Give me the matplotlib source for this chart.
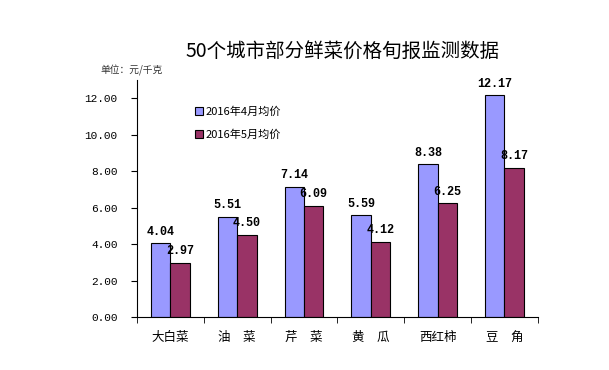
import matplotlib
matplotlib.use('Agg')
import numpy as np
import matplotlib.pyplot as plt
from matplotlib.ticker import FixedLocator, NullFormatter

plt.rcParams['font.family'] = ['Noto Sans CJK SC', 'DejaVu Sans']

categories = ['大白菜', '油　菜', '芹　菜', '黄　瓜', '西红柿', '豆　角']
april = [4.04, 5.51, 7.14, 5.59, 8.38, 12.17]
may = [2.97, 4.50, 6.09, 4.12, 6.25, 8.17]
series_names = ['2016年4月均价', '2016年5月均价']
yticks = [0, 2, 4, 6, 8, 10, 12]

fig = plt.figure(figsize=(6.09, 3.70), dpi=100)
ax = fig.add_axes([0.225, 0.143, 0.658, 0.641])

x = np.arange(len(categories))
w = 0.29
b1 = ax.bar(x - w / 2, april, w, color='#9999FF', edgecolor='black', lw=0.8, label=series_names[0])
b2 = ax.bar(x + w / 2, may, w, color='#993366', edgecolor='black', lw=0.8, label=series_names[1])

# value labels above each bar
for bars, vals in [(b1, april), (b2, may)]:
    for r, v in zip(bars, vals):
        ax.annotate(f'{v:.2f}', (r.get_x() + r.get_width() / 2, v), xytext=(0, 4),
                    textcoords='offset points', ha='center', va='bottom',
                    fontsize=8.5, fontweight='bold', family='Liberation Mono')

ax.set_xlim(-0.5, len(categories) - 0.5)
ax.set_ylim(0, 13)
ax.set_yticks(yticks)
ax.set_yticklabels([f'{t:.2f}' for t in yticks], family='Liberation Mono', fontsize=8)
ax.set_xticks(x)
ax.set_xticklabels(categories, fontsize=9)
ax.xaxis.set_minor_locator(FixedLocator(np.arange(len(categories) + 1) - 0.5))
ax.xaxis.set_minor_formatter(NullFormatter())
ax.tick_params(axis='x', which='major', length=0, pad=10)
ax.tick_params(axis='x', which='minor', length=4, direction='out')
ax.tick_params(axis='y', length=4, direction='out', pad=10)
for s in ['top', 'right']:
    ax.spines[s].set_visible(False)

ax.legend(loc='upper left', bbox_to_anchor=(0.12, 0.93), frameon=False, fontsize=8,
          handlelength=0.7, handleheight=0.7, handletextpad=0.2, labelspacing=1.1)

fig.text(0.562, 0.86, '50个城市部分鲜菜价格旬报监测数据', ha='center', va='center', fontsize=14)
fig.text(0.165, 0.8, '单位：元/千克', fontsize=7, color='#333333')

plt.savefig('out.png', dpi=100)
plt.close()
